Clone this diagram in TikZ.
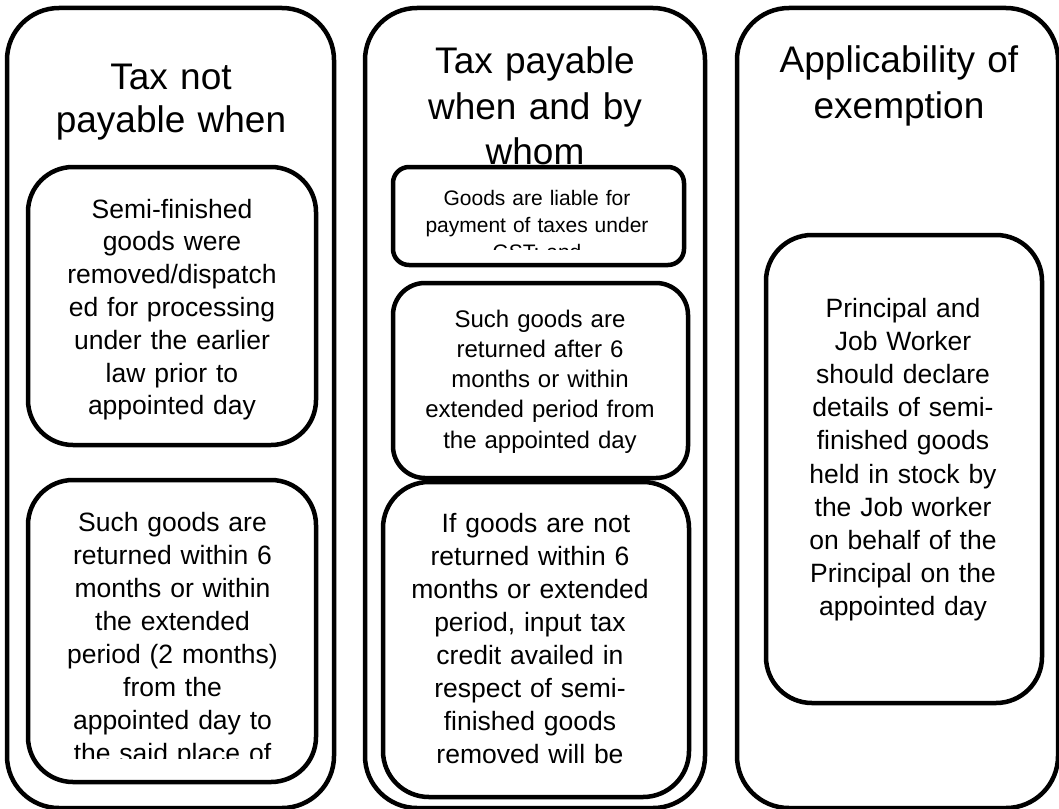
\documentclass[tikz,border=0pt]{standalone}
\usepackage{fontspec}
\setmainfont{Liberation Sans}[Ligatures=NoCommon]
\begin{document}
\begin{tikzpicture}[x=1pt,y=-1pt,
  outerbox/.style={draw=black, line width=4.5pt, rounded corners=52pt},
  innerbox/.style={draw=black, fill=white, line width=4.5pt},
  titletxt/.style={font=\fontsize{37}{44}\selectfont, text width=330pt, align=center, anchor=base, inner sep=0pt},
  bodytxt/.style={font=\fontsize{26.5}{32.8}\selectfont, text width=300pt, align=center, anchor=base, inner sep=0pt},
  smalltxt/.style={font=\fontsize{21}{27}\selectfont, text width=290pt, align=center, anchor=base, inner sep=0pt},
  midtxt/.style={font=\fontsize{24}{30.3}\selectfont, text width=295pt, align=center, anchor=base, inner sep=0pt}]
\useasboundingbox (0,0) rectangle (1059,808);
\fill[white] (0,0) rectangle (1059,808);
\begin{scope}
  \clip (0,0) rectangle (1059,808);
  % outer columns
  \draw[outerbox] (7,8) rectangle (334,808);
  \draw[outerbox] (365,8) rectangle (705,808);
  \draw[outerbox] (737,8) rectangle (1058,808);
  % titles
  \node[titletxt, font=\fontsize{37}{43.5}\selectfont] (title1) at (171,89) {Tax not\\payable when};
  \node[titletxt, font=\fontsize{37}{45.5}\selectfont] (title2) at (535,74) {Tax payable\\when and by\\whom};
  \node[titletxt, font=\fontsize{37}{45}\selectfont] (title3) at (899,73) {Applicability of\\exemption};
  % column 1
  \draw[innerbox, rounded corners=45pt] (28,167) rectangle (316,445);
  \node[bodytxt] (t1a) at (172,218) {Semi-finished\\goods were\\removed/dispatch\\ed for processing\\under the earlier\\law prior to\\appointed day};
  \draw[innerbox, rounded corners=45pt] (28,480) rectangle (316,782);
  \begin{scope}
    \clip (30,482) rectangle (314,758);
    \node[bodytxt, font=\fontsize{26.5}{33}\selectfont] (t1b) at (172.5,531) {Such goods are\\returned within 6\\months or within\\the extended\\period (2 months)\\from the\\appointed day to\\the said place of};
  \end{scope}
  % column 2
  \draw[innerbox, rounded corners=16pt] (393,167) rectangle (684,265);
  \begin{scope}
    \clip (395,169) rectangle (682,249);
    \node[smalltxt] (t2a) at (537,205) {Goods are liable for\\payment of taxes under\\GST; and};
  \end{scope}
  \draw[innerbox, rounded corners=32pt] (393,283) rectangle (688,478);
  \node[midtxt] (t2b) at (540,327) {Such goods are\\returned after 6\\months or within\\extended period from\\the appointed day};
  \draw[innerbox, rounded corners=46pt] (383,482) rectangle (689,797);
  \node[bodytxt, font=\fontsize{26.5}{33}\selectfont] (t2c) at (530,532) {\hspace*{12pt}If goods are not\\returned within 6\\months or extended\\period, input tax\\credit availed in\\respect of semi-\\finished goods\\removed will be};
  % column 3
  \draw[innerbox, rounded corners=46pt] (766,235) rectangle (1042,703);
  \node[bodytxt, font=\fontsize{26.5}{33.2}\selectfont] (t3) at (903,317) {Principal and\\Job Worker\\should declare\\details of semi-\\finished goods\\held in stock by\\the Job worker\\on behalf of the\\Principal on the\\appointed day};
\end{scope}
\end{tikzpicture}
\end{document}
